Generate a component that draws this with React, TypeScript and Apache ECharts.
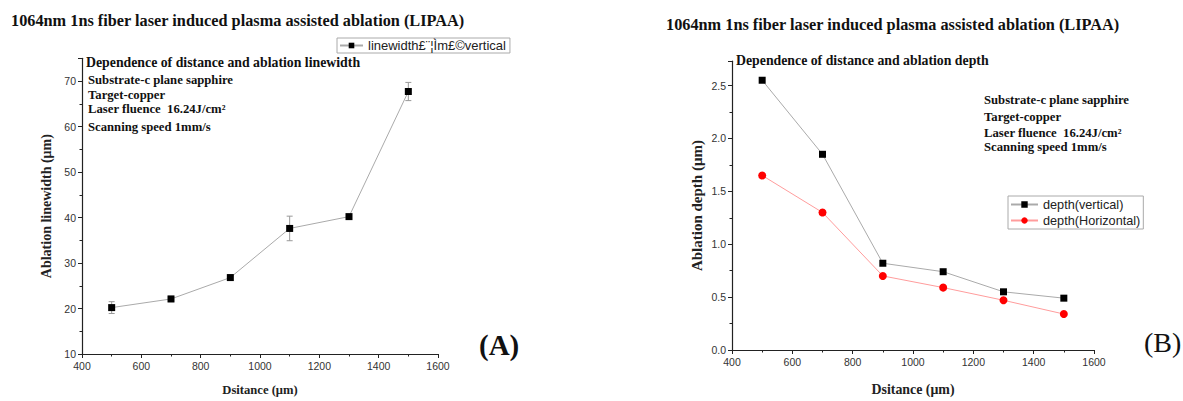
import React, { useEffect, useRef } from "react";
import * as echarts from "echarts";

const distances = [500, 700, 900, 1100, 1300, 1500];
const linewidth = [20.2, 22.1, 26.8, 37.6, 40.2, 67.7];
const linewidthErr = [1.3, 0.6, 0.6, 2.7, 0.4, 2.0];
const depthVertical = [2.55, 1.85, 0.82, 0.74, 0.55, 0.49];
const depthHorizontal = [1.65, 1.3, 0.7, 0.59, 0.47, 0.34];
const legendA = "linewidth£¨¦Ìm£©vertical";
const legendB1 = "depth(vertical)";
const legendB2 = "depth(Horizontal)";
const mainTitle = "1064nm 1ns fiber laser induced plasma assisted ablation (LIPAA)";
const notes = ["Substrate-c plane sapphire", "Target-copper", "Laser fluence  16.24J/cm²", "Scanning speed 1mm/s"];

const serif = "Liberation Serif";
const sans = "Liberation Sans";

export default function App() {
  const ref = useRef<HTMLDivElement>(null);
  useEffect(() => {
    document.body.style.margin = "0";
    const chart = echarts.init(ref.current!, null, { renderer: "svg" });
    const axisCommon = {
      axisLine: { show: true, lineStyle: { color: "#222", width: 1.2 } },
      axisTick: { show: true, inside: false, length: 4, lineStyle: { color: "#222" } },
      minorTick: { show: true, splitNumber: 2, length: 2.5, lineStyle: { color: "#222" } },
      splitLine: { show: false },
      axisLabel: { color: "#333", fontFamily: sans, fontSize: 10.5, margin: 6, formatter: (v: number) => String(v) },
      nameTextStyle: { color: "#222", fontFamily: serif, fontWeight: "bold", fontSize: 12.6 },
    };
    const text = (x: number, y: number, t: string, size = 12.7, weight = "bold", family = serif) => ({
      type: "text",
      x,
      y,
      style: { text: t, fontFamily: family, fontWeight: weight, fontSize: size, fill: "#111" },
    });
    const errData = distances.map((d, i) => [d, linewidth[i] - linewidthErr[i], linewidth[i] + linewidthErr[i]]);
    chart.setOption({
      animation: false,
      grid: [
        { left: 82, top: 58.3, width: 356, height: 296.4 },
        { left: 732, top: 61.2, width: 362, height: 294.3 },
      ],
      xAxis: [
        { ...axisCommon, gridIndex: 0, type: "value", min: 400, max: 1600, interval: 200, name: "Dsitance (μm)", nameLocation: "middle", nameGap: 29 },
        { ...axisCommon, gridIndex: 1, type: "value", min: 400, max: 1600, interval: 200, name: "Dsitance (μm)", nameLocation: "middle", nameGap: 32,
          nameTextStyle: { ...axisCommon.nameTextStyle, fontSize: 13.9 } },
      ],
      yAxis: [
        { ...axisCommon, gridIndex: 0, type: "value", min: 10, max: 75, interval: 10, name: "Ablation linewidth (μm)", nameLocation: "middle", nameGap: 28.5,
          nameTextStyle: { ...axisCommon.nameTextStyle, fontSize: 14 },
          axisLabel: { ...axisCommon.axisLabel, showMaxLabel: false } },
        { ...axisCommon, gridIndex: 1, type: "value", min: 0, max: 2.73, interval: 0.5, name: "Ablation depth (μm)", nameLocation: "middle", nameGap: 28,
          nameTextStyle: { ...axisCommon.nameTextStyle, fontSize: 15 },
          axisLabel: { ...axisCommon.axisLabel, showMaxLabel: false, formatter: (v: number) => v.toFixed(1) } },
      ],
      legend: [
        {
          data: [legendA], left: 337, top: 38, orient: "vertical", itemWidth: 23, itemHeight: 7, itemGap: 2,
          padding: [1, 4, 1, 2], borderColor: "#aaa", borderWidth: 1,
          textStyle: { fontFamily: sans, fontSize: 13, color: "#222" },
        },
        {
          data: [legendB1, legendB2], left: 1008, top: 196, orient: "vertical", itemWidth: 27, itemHeight: 8, itemGap: 3,
          padding: [2, 3, 2, 2], borderColor: "#aaa", borderWidth: 1,
          textStyle: { fontFamily: sans, fontSize: 12.7, color: "#222" },
        },
      ],
      series: [
        {
          name: legendA, type: "line", xAxisIndex: 0, yAxisIndex: 0,
          data: distances.map((d, i) => [d, linewidth[i]]),
          symbol: "rect", symbolSize: 7, itemStyle: { color: "#000" },
          lineStyle: { color: "#aaa", width: 1 }, z: 3,
        },
        {
          type: "custom", xAxisIndex: 0, yAxisIndex: 0, data: errData, z: 2,
          renderItem: (params: any, api: any) => {
            const x = api.value(0);
            const lo = api.coord([x, api.value(1)]);
            const hi = api.coord([x, api.value(2)]);
            const s = { stroke: "#999", lineWidth: 1 };
            return {
              type: "group",
              children: [
                { type: "line", shape: { x1: lo[0], y1: lo[1], x2: hi[0], y2: hi[1] }, style: s },
                { type: "line", shape: { x1: lo[0] - 3, y1: lo[1], x2: lo[0] + 3, y2: lo[1] }, style: s },
                { type: "line", shape: { x1: hi[0] - 3, y1: hi[1], x2: hi[0] + 3, y2: hi[1] }, style: s },
              ],
            };
          },
        },
        {
          name: legendB1, type: "line", xAxisIndex: 1, yAxisIndex: 1,
          data: distances.map((d, i) => [d, depthVertical[i]]),
          symbol: "rect", symbolSize: 7, itemStyle: { color: "#000" },
          lineStyle: { color: "#aaa", width: 1 },
        },
        {
          name: legendB2, type: "line", xAxisIndex: 1, yAxisIndex: 1,
          data: distances.map((d, i) => [d, depthHorizontal[i]]),
          symbol: "circle", symbolSize: 8, itemStyle: { color: "#f00" },
          lineStyle: { color: "#ff9c9c", width: 1 },
        },
      ],
      graphic: [
        text(11, 12, mainTitle, 16.3),
        text(666, 16, mainTitle, 16.3),
        text(86, 55, "Dependence of distance and ablation linewidth", 13.8),
        ...notes.map((t, i) => text(88, [73, 88, 102, 120][i], t)),
        text(736, 53, "Dependence of distance and ablation depth", 13.8),
        ...notes.map((t, i) => text(984, [93, 110, 126, 140][i], t)),
        text(479, 330, "(A)", 29),
        text(1144, 328, "(B)", 28, "normal"),
      ],
    });
    return () => chart.dispose();
  }, []);
  return <div ref={ref} style={{ width: 1183, height: 401 }} />;
}
